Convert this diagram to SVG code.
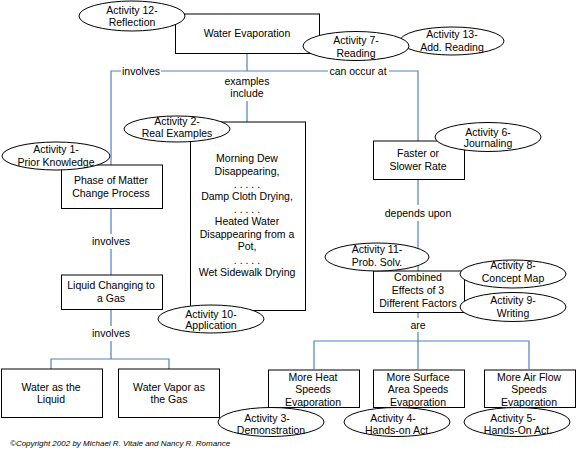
<svg xmlns="http://www.w3.org/2000/svg" width="576" height="449" viewBox="0 0 576 449">
<style>
text{font-family:"Liberation Sans",Arial,sans-serif;font-size:10.5px;fill:#000;text-anchor:middle}
.box{fill:#fff;stroke:#000;stroke-width:1}
.ell{fill:#fff;stroke:#000;stroke-width:1}
.con{stroke:#4f81bd;stroke-width:1.2;fill:none}
.copy{font-size:8px;font-style:italic;text-anchor:start}
</style>
<rect width="576" height="449" fill="#fff"/>
<g id="connectors">
<path class="con" d="M247,53V71M111,165V71H121M161,71H328M389,71H418V141M247,101V122"/>
<path class="con" d="M111,208V234M111,249V275M111,309V326M111,341V359M51,369V359H169V369"/>
<path class="con" d="M418,179V205M418,221V271M418,312V318M418,332V369M314,369V341H529V369"/>
</g>
<g id="labels">
<text x="141" y="75">involves</text>
<text x="358" y="75">can occur at</text>
<text x="247" y="85">examples</text>
<text x="247" y="97">include</text>
<text x="111" y="245">involves</text>
<text x="111" y="337">involves</text>
<text x="418" y="217">depends upon</text>
<text x="418" y="329">are</text>
</g>
<g id="n-water-evaporation"><rect class="box" x="175.5" y="14" width="144" height="39.5"/><text x="247" y="37">Water Evaporation</text></g>
<g id="n-examples"><rect class="box" x="190.5" y="122" width="115" height="188.5"/>
<text x="247" y="162">Morning Dew</text><text x="247" y="175">Disappearing,</text>
<text x="247" y="188">. . . . .</text>
<text x="247" y="200">Damp Cloth Drying,</text>
<text x="247" y="213">. . . . .</text>
<text x="247" y="225">Heated Water</text><text x="247" y="238">Disappearing from a</text><text x="247" y="250">Pot,</text>
<text x="247" y="264">. . . . .</text>
<text x="247" y="276">Wet Sidewalk Drying</text></g>
<g id="n-phase"><rect class="box" x="61.5" y="165" width="101" height="43.5"/><text x="111" y="184">Phase of Matter</text><text x="111" y="197">Change Process</text></g>
<g id="n-liquid"><rect class="box" x="61.5" y="275" width="101" height="34.5"/><text x="111" y="289">Liquid Changing to</text><text x="111" y="302">a Gas</text></g>
<g id="n-water-liquid"><rect class="box" x="1.5" y="369" width="101" height="48.5"/><text x="51" y="391">Water as the</text><text x="51" y="403">Liquid</text></g>
<g id="n-water-vapor"><rect class="box" x="118.5" y="369" width="101" height="48.5"/><text x="169" y="391">Water Vapor as</text><text x="169" y="403">the Gas</text></g>
<g id="n-faster"><rect class="box" x="373.5" y="141" width="91" height="38.5"/><text x="418" y="157">Faster or</text><text x="418" y="170">Slower Rate</text></g>
<g id="n-combined"><rect class="box" x="373.5" y="271" width="91" height="41.5"/><text x="418" y="281">Combined</text><text x="418" y="294">Effects of 3</text><text x="418" y="307">Different Factors</text></g>
<g id="n-heat"><rect class="box" x="268.5" y="370" width="91" height="37.5"/><text x="313" y="381">More Heat</text><text x="313" y="393">Speeds</text><text x="313" y="406">Evaporation</text></g>
<g id="n-surface"><rect class="box" x="373.5" y="370" width="91" height="37.5"/><text x="418" y="381">More Surface</text><text x="418" y="393">Area Speeds</text><text x="418" y="406">Evaporation</text></g>
<g id="n-airflow"><rect class="box" x="484.5" y="370" width="91" height="37.5"/><text x="529" y="381">More Air Flow</text><text x="529" y="393">Speeds</text><text x="529" y="406">Evaporation</text></g>
<g id="a12"><ellipse class="ell" cx="132" cy="16" rx="53" ry="15"/><text x="132" y="14">Activity 12-</text><text x="132" y="26">Reflection</text></g>
<g id="a13"><ellipse class="ell" cx="452" cy="41" rx="52" ry="14"/><text x="452" y="38">Activity 13-</text><text x="452" y="51">Add. Reading</text></g>
<g id="a7"><ellipse class="ell" cx="356" cy="46" rx="53" ry="14.5"/><text x="356" y="44">Activity 7-</text><text x="356" y="57">Reading</text></g>
<g id="a2"><ellipse class="ell" cx="177" cy="129" rx="53" ry="13"/><text x="177" y="125">Activity 2-</text><text x="177" y="137">Real Examples</text></g>
<g id="a1"><ellipse class="ell" cx="56" cy="156" rx="54" ry="14"/><text x="56" y="153">Activity 1-</text><text x="56" y="166">Prior Knowledge</text></g>
<g id="a10"><ellipse class="ell" cx="211" cy="319" rx="53" ry="14"/><text x="211" y="318">Activity 10-</text><text x="211" y="329">Application</text></g>
<g id="a6"><ellipse class="ell" cx="488" cy="137" rx="53" ry="14.5"/><text x="488" y="136">Activity 6-</text><text x="488" y="147">Journaling</text></g>
<g id="a11"><ellipse class="ell" cx="377" cy="257" rx="52" ry="14"/><text x="377" y="253">Activity 11-</text><text x="377" y="266">Prob. Solv.</text></g>
<g id="a8"><ellipse class="ell" cx="513" cy="274" rx="53" ry="14"/><text x="513" y="269">Activity 8-</text><text x="513" y="282">Concept Map</text></g>
<g id="a9"><ellipse class="ell" cx="513" cy="307" rx="53" ry="14.5"/><text x="513" y="304">Activity 9-</text><text x="513" y="317">Writing</text></g>
<g id="a3"><ellipse class="ell" cx="271" cy="422" rx="53" ry="14.5"/><text x="267" y="422">Activity 3-</text><text x="271" y="434">Demonstration</text></g>
<g id="a4"><ellipse class="ell" cx="397" cy="422" rx="53" ry="14.5"/><text x="393" y="422">Activity 4-</text><text x="398" y="434">Hands-on Act.</text></g>
<g id="a5"><ellipse class="ell" cx="517" cy="422" rx="53" ry="14.5"/><text x="513" y="422">Activity 5-</text><text x="518" y="434">Hands-On Act.</text></g>
<text class="copy" x="10" y="446">©Copyright 2002 by Michael R. Vitale and Nancy R. Romance</text>
</svg>
